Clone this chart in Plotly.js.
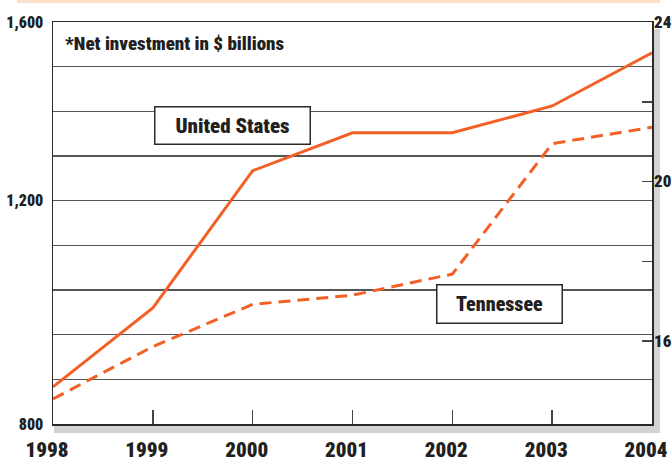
<!DOCTYPE html>
<html>
<head>
<meta charset="utf-8">
<script src="https://cdn.plot.ly/plotly-3.0.1.min.js"></script>
<style>
html,body{margin:0;padding:0;background:#fff;}
#chart{width:672px;height:462px;}
svg text{font-stretch:condensed !important;}
</style>
</head>
<body>
<div id="chart"></div>
<script>
var years = [1998, 1999, 2000, 2001, 2002, 2003, 2004];
var usValues = [783, 960, 1267, 1352, 1352, 1412, 1531];
var tnValues = [14.55, 15.86, 16.92, 17.15, 17.68, 20.95, 21.36];
var leftTickVals = [700, 800, 900, 1000, 1100, 1200, 1300, 1400, 1500, 1600];
var leftTickText = ["800", "", "", "", "", "1,200", "", "", "", "1,600"];
var rightTickVals = [16, 18, 20, 22, 24];
var rightTickText = ["16", "", "20", "", "24"];
var xTickText = ["1998", "1999", "2000", "2001", "2002", "2003", "2004"];

var FONT = 'Roboto, "Liberation Sans", sans-serif';
var ORANGE = '#f26026';
var W = 900;

var traces = [
  {x: years, y: usValues, type: 'scatter', mode: 'lines', name: 'United States',
   line: {color: ORANGE, width: 3}, yaxis: 'y', hoverinfo: 'skip'},
  {x: years, y: tnValues, type: 'scatter', mode: 'lines', name: 'Tennessee',
   line: {color: ORANGE, width: 3, dash: '12px,7px'}, yaxis: 'y2', hoverinfo: 'skip'}
];

var layout = {
  width: 672, height: 462,
  margin: {l: 53, r: 20, t: 22, b: 38},
  paper_bgcolor: '#fff', plot_bgcolor: 'rgba(0,0,0,0)',
  showlegend: false,
  font: {family: FONT, color: '#231f20'},
  xaxis: {
    range: [1998, 2004], tickvals: years, ticktext: xTickText,
    ticks: 'inside', ticklen: 14, tickwidth: 1.5, tickcolor: '#444',
    showgrid: false, zeroline: false,
    showline: true, mirror: true, linecolor: '#2a2a2a', linewidth: 1.5,
    tickfont: {family: FONT, size: 21, color: '#231f20', weight: W},
    ticklabelstandoff: 6, ticklabelshift: -6, ticklabeloverflow: 'allow', fixedrange: true
  },
  yaxis: {
    range: [700, 1600], tickvals: leftTickVals, ticktext: leftTickText,
    ticks: '', showgrid: true, gridcolor: '#555', gridwidth: 1.3, zeroline: false,
    showline: true, mirror: true, linecolor: '#2a2a2a', linewidth: 1.5,
    tickfont: {family: FONT, size: 16, color: '#231f20', weight: W},
    ticklabelstandoff: 5, ticklabeloverflow: 'allow', fixedrange: true
  },
  yaxis2: {
    range: [13.92, 24], overlaying: 'y', side: 'right',
    tickvals: rightTickVals, ticktext: rightTickText,
    ticks: 'inside', ticklen: 10, tickwidth: 1.5, tickcolor: '#444',
    showgrid: false, zeroline: false, showline: false,
    tickfont: {family: FONT, size: 17, color: '#231f20', weight: W},
    ticklabelstandoff: 1, ticklabeloverflow: 'allow', fixedrange: true
  },
  shapes: [
    {type: 'rect', xref: 'paper', yref: 'paper', x0: 1, x1: 1 + 8/599, y0: -9/402, y1: 1 - 7/402,
     fillcolor: '#d3d3d5', line: {width: 0}, layer: 'below'},
    {type: 'rect', xref: 'paper', yref: 'paper', x0: 1/599, x1: 1 + 8/599, y0: -9/402, y1: 0,
     fillcolor: '#d3d3d5', line: {width: 0}, layer: 'below'},
    {type: 'rect', xref: 'paper', yref: 'paper', x0: -36/599, x1: 1 + 8/599, y0: 1 + 19/402, y1: 1 + 22/402,
     fillcolor: '#fde0c8', line: {width: 0}, layer: 'below'}
  ],
  annotations: [
    {xref: 'paper', yref: 'y', x: 11/599, y: 1551, xanchor: 'left', yanchor: 'middle',
     text: '*Net investment in $ billions', showarrow: false, borderpad: 0,
     font: {family: FONT, size: 19, color: '#231f20', weight: W}},
    {xref: 'x', yref: 'y', x: 1999.80, y: 1369, text: 'United States', showarrow: false,
     bgcolor: '#fff', bordercolor: '#2a2a2a', borderwidth: 1.5, borderpad: 2,
     width: 150, height: 32,
     font: {family: FONT, size: 21, color: '#231f20', weight: W}},
    {xref: 'x', yref: 'y', x: 2002.47, y: 969, text: 'Tennessee', showarrow: false,
     bgcolor: '#fff', bordercolor: '#2a2a2a', borderwidth: 1.5, borderpad: 2,
     width: 120, height: 33,
     font: {family: FONT, size: 20, color: '#231f20', weight: W}}
  ]
};

Plotly.newPlot('chart', traces, layout, {displayModeBar: false, staticPlot: true});
</script>
</body>
</html>
